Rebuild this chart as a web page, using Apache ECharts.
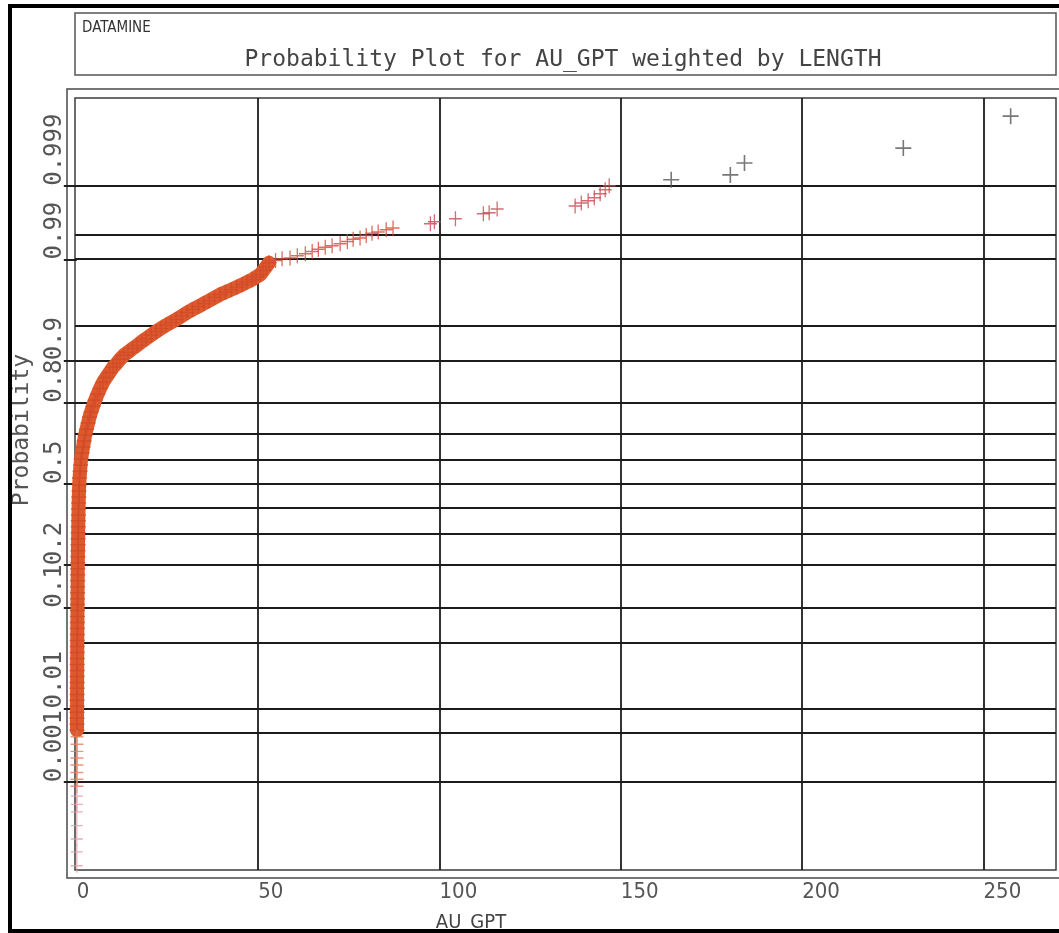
<!DOCTYPE html>
<html>
<head>
<meta charset="utf-8">
<script src="https://cdn.jsdelivr.net/npm/echarts@6/dist/echarts.min.js"></script>
<style>
  html, body { margin: 0; padding: 0; background: #fff; }
  #chart { width: 1059px; height: 933px; }
</style>
</head>
<body>
<div id="chart"></div>
<script>
// AU_GPT values (g/t) and cumulative length-weighted probabilities.
// Dense part of the distribution, drawn as a continuous band of markers.
const bandAu = [
  0.05, 0.05, 0.06, 0.06, 0.07, 0.07, 0.08, 0.08, 0.09, 0.09,
  0.10, 0.10, 0.11, 0.12, 0.12, 0.13, 0.14, 0.15, 0.16, 0.17,
  0.18, 0.19, 0.20, 0.21, 0.22, 0.24, 0.25, 0.26, 0.28, 0.30,
  0.32, 0.34, 0.36, 0.38, 0.40, 0.42, 0.45, 0.48, 0.51, 0.55,
  0.60, 0.66,
  0.76, 0.9, 1.03, 1.17, 1.45, 1.72, 2.0, 2.28, 2.69, 3.1,
  3.5, 3.93, 4.48, 5.03, 5.72, 6.41, 7.24, 8.07, 9.03, 10.0,
  10.97, 11.9, 13.0, 14.1, 15.4, 16.6, 17.9, 19.1, 20.5, 21.9,
  23.2, 24.6, 26.0, 27.4, 28.9, 30.4, 31.9, 33.5, 35.0, 36.5,
  38.0, 39.5, 41.0, 42.6, 44.1, 45.6, 46.9, 48.4, 49.4, 50.6,
  51.4, 52.2, 53.0
];
const bandProb = [
  0.00536, 0.00639, 0.0076, 0.009, 0.0106, 0.0125, 0.0146, 0.0171, 0.0199, 0.0231,
  0.0267, 0.0307, 0.0353, 0.0404, 0.0461, 0.0524, 0.0594, 0.0671, 0.0755, 0.0847,
  0.0948, 0.1057, 0.1174, 0.1301, 0.1437, 0.1582, 0.1736, 0.19, 0.2072, 0.2254,
  0.2444, 0.2643, 0.285, 0.3064, 0.3285, 0.3512, 0.3745, 0.3982, 0.4223, 0.4467,
  0.4713, 0.496,
  0.525, 0.553, 0.578, 0.602, 0.626, 0.649, 0.672, 0.694, 0.715, 0.736,
  0.756, 0.772, 0.79, 0.807, 0.824, 0.839, 0.854, 0.865, 0.876, 0.887,
  0.894, 0.902, 0.909, 0.914, 0.92, 0.9245, 0.93, 0.934, 0.9387, 0.943,
  0.9465, 0.95, 0.953, 0.9559, 0.9591, 0.9622, 0.9647, 0.967, 0.9693, 0.9713,
  0.9733, 0.9752, 0.9766, 0.978, 0.9793, 0.9806, 0.9818, 0.9829, 0.984, 0.985,
  0.9865, 0.9878, 0.9891
];

// Run of samples between roughly 55 and 87 g/t.
const runAu = [54.8, 56.6, 58.8, 60.8, 63.0, 64.9, 66.6, 68.5, 70.4, 72.6,
  74.6, 76.2, 78.1, 79.8, 81.4, 83.1, 85.3, 87.2];
const runProb = [0.9897, 0.9902, 0.9904, 0.991, 0.9915, 0.992, 0.9925, 0.9929, 0.9932, 0.9936,
  0.994, 0.9944, 0.9946, 0.995, 0.9953, 0.9955, 0.9958, 0.996];

// Upper samples, 97 to 147 g/t.
const upperAu = [97.5, 98.6, 104.4, 112.1, 113.7, 115.9, 137.4, 139.1, 141.0, 142.7, 144.3, 145.7, 146.8];
const upperProb = [0.99649, 0.99671, 0.997, 0.99744, 0.99752, 0.99782, 0.99802, 0.99821, 0.99833,
  0.99849, 0.99868, 0.99885, 0.999];

// Extreme grades.
const topAu = [163.9, 180.2, 184.1, 227.9, 257.5];
const topProb = [0.99919, 0.99932, 0.99956, 0.99975, 0.999931];

// Lower tail of near-zero grades.
const tailMidAu = [0.04, 0.04, 0.03, 0.03, 0.03, 0.02, 0.02, 0.02];
const tailMidProb = [0.0044, 0.0035, 0.0028, 0.00226, 0.0018, 0.0014, 0.00111, 0.00087];
const tailLowAu = [0.02, 0.01, 0.01, 0.01, 0.01, 0.005, 0.005];
const tailLowProb = [0.00061, 0.00045, 0.00034, 0.0002, 0.000117, 0.000069, 0.000038];

// Axis annotation.
const xTickValues = [0, 50, 100, 150, 200, 250];
const xGridValues = [50, 100, 150, 200, 250];
const yTickLabels = ['0.001', '0.01', '0.1', '0.2', '0.5', '0.8', '0.9', '0.99', '0.999'];
const yGridProbs = [0.001, 0.005, 0.01, 0.05, 0.1, 0.2, 0.3, 0.4, 0.5, 0.6, 0.7, 0.8, 0.9,
  0.95, 0.99, 0.995, 0.999];

// Inverse standard normal CDF (Acklam), used for the probability scale.
function probit(p) {
  const a = [-3.969683028665376e+01, 2.209460984245205e+02, -2.759285104469687e+02,
    1.383577518672690e+02, -3.066479806614716e+01, 2.506628277459239e+00];
  const b = [-5.447609879822406e+01, 1.615858368580409e+02, -1.556989798598866e+02,
    6.680131188771972e+01, -1.328068155288572e+01];
  const c = [-7.784894002430293e-03, -3.223964580411365e-01, -2.400758277161838e+00,
    -2.549732539343734e+00, 4.374664141464968e+00, 2.938163982698783e+00];
  const d = [7.784695709041462e-03, 3.224671290700398e-01, 2.445134137142996e+00,
    3.754408661907416e+00];
  const plow = 0.02425, phigh = 1 - plow;
  let q, r;
  if (p < plow) {
    q = Math.sqrt(-2 * Math.log(p));
    return (((((c[0] * q + c[1]) * q + c[2]) * q + c[3]) * q + c[4]) * q + c[5]) /
      ((((d[0] * q + d[1]) * q + d[2]) * q + d[3]) * q + 1);
  }
  if (p > phigh) {
    q = Math.sqrt(-2 * Math.log(1 - p));
    return -(((((c[0] * q + c[1]) * q + c[2]) * q + c[3]) * q + c[4]) * q + c[5]) /
      ((((d[0] * q + d[1]) * q + d[2]) * q + d[3]) * q + 1);
  }
  q = p - 0.5; r = q * q;
  return (((((a[0] * r + a[1]) * r + a[2]) * r + a[3]) * r + a[4]) * r + a[5]) * q /
    (((((b[0] * r + b[1]) * r + b[2]) * r + b[3]) * r + b[4]) * r + 1);
}

function pairs(xs, ps) {
  return xs.map((x, i) => [x, probit(ps[i])]);
}

const yTickZ = yTickLabels.map(s => probit(parseFloat(s)));

// Plus-shaped marker.
const PLUS = 'path://M6.3,0H7.7V14H6.3Z M0,6.3H14V7.7H0Z';

const monoFont = "'DejaVu Sans Mono', 'Liberation Mono', monospace";
const condFont = "'DejaVu Sans Condensed', 'Liberation Sans Narrow', 'DejaVu Sans', sans-serif";

const chart = echarts.init(document.getElementById('chart'), null, { renderer: 'canvas' });

chart.setOption({
  animation: false,
  backgroundColor: '#ffffff',
  grid: {
    left: 75, top: 98, width: 981, height: 772,
    show: true, borderColor: '#3c3c3c', borderWidth: 1.5,
    containLabel: false, outerBoundsMode: 'none'
  },
  xAxis: {
    type: 'value', min: -0.5, max: 270,
    axisLine: { show: false },
    axisTick: { show: false },
    splitLine: { show: false },
    axisLabel: {
      customValues: xTickValues,
      align: 'left', margin: 11,
      color: '#555', fontSize: 22, fontFamily: condFont
    }
  },
  yAxis: {
    type: 'value', min: -4, max: 4,
    axisLine: { show: false },
    axisTick: {
      show: true, customValues: yTickZ, length: 13, inside: false,
      lineStyle: { color: '#1e1e1e', width: 2 }
    },
    splitLine: { show: false },
    axisLabel: {
      customValues: yTickZ,
      rotate: 90, align: 'left', verticalAlign: 'bottom', margin: 8,
      color: '#555', fontSize: 24, fontFamily: monoFont,
      formatter: function (v) {
        let best = 0, bd = Infinity;
        yTickZ.forEach((z, i) => { const dd = Math.abs(z - v); if (dd < bd) { bd = dd; best = i; } });
        return yTickLabels[best];
      }
    }
  },
  graphic: [
    // outer plot frame
    { type: 'rect', shape: { x: 67, y: 89, width: 1010, height: 789 },
      style: { fill: 'none', stroke: '#4a4a4a', lineWidth: 1.5 }, silent: true },
    // title box
    { type: 'rect', shape: { x: 75, y: 13, width: 981, height: 62 },
      style: { fill: 'none', stroke: '#555', lineWidth: 1.5 }, silent: true },
    { type: 'text', x: 82, y: 28, silent: true,
      style: { text: 'DATAMINE', fill: '#333', font: '15px ' + condFont,
        textAlign: 'left', textVerticalAlign: 'middle' } },
    { type: 'text', x: 563, y: 60, silent: true,
      style: { text: 'Probability Plot for AU_GPT weighted by LENGTH', fill: '#444',
        font: '23px ' + monoFont, textAlign: 'center', textVerticalAlign: 'middle' } },
    { type: 'text', x: 22, y: 430, rotation: Math.PI / 2, silent: true,
      style: { text: 'Probability', fill: '#555', font: '23px ' + monoFont,
        textAlign: 'center', textVerticalAlign: 'middle' } },
    { type: 'text', x: 471, y: 923, silent: true,
      style: { text: 'AU_GPT', fill: '#444', font: '20px ' + condFont,
        textAlign: 'center', textVerticalAlign: 'middle' } },
    // page border
    { type: 'rect', shape: { x: 8, y: 4, width: 4, height: 929 }, style: { fill: '#000' }, silent: true },
    { type: 'rect', shape: { x: 8, y: 4, width: 1051, height: 4 }, style: { fill: '#000' }, silent: true },
    { type: 'rect', shape: { x: 8, y: 929, width: 1051, height: 4 }, style: { fill: '#000' }, silent: true }
  ],
  series: [
    {
      name: 'band',
      type: 'line',
      data: pairs(bandAu, bandProb),
      showSymbol: false,
      symbol: 'none',
      clip: false,
      z: 2,
      lineStyle: { color: '#de5a2c', width: 14, cap: 'round', join: 'round' },
      silent: true,
      markLine: {
        silent: true,
        z: 1,
        symbol: ['none', 'none'],
        label: { show: false },
        lineStyle: { color: '#1c1c1c', width: 1.8, type: 'solid' },
        emphasis: { disabled: true },
        animation: false,
        data: yGridProbs.map(p => ({ yAxis: probit(p) }))
          .concat(xGridValues.map(v => ({ xAxis: v })))
      }
    },
    {
      name: 'bandMarks', type: 'scatter', data: pairs(bandAu, bandProb),
      symbol: PLUS, symbolSize: [15, 15], clip: false, z: 3, silent: true,
      itemStyle: { color: '#cf4a2a' }
    },
    {
      name: 'run', type: 'scatter', data: pairs(runAu, runProb),
      symbol: PLUS, symbolSize: [13, 15], clip: false, z: 3, silent: true,
      itemStyle: { color: '#d54836' }
    },
    {
      name: 'upper', type: 'scatter', data: pairs(upperAu, upperProb),
      symbol: PLUS, symbolSize: [13, 15], clip: false, z: 3, silent: true,
      itemStyle: { color: '#c84850' }
    },
    {
      name: 'top', type: 'scatter', data: pairs(topAu, topProb),
      symbol: PLUS, symbolSize: [16, 16], clip: false, z: 3, silent: true,
      itemStyle: { color: '#555' }
    },
    {
      name: 'tailMid', type: 'scatter', data: pairs(tailMidAu, tailMidProb),
      symbol: PLUS, symbolSize: [13, 14], clip: false, z: 3, silent: true,
      itemStyle: { color: '#e2805e' }
    },
    {
      name: 'tailLow', type: 'scatter', data: pairs(tailLowAu, tailLowProb),
      symbol: PLUS, symbolSize: [12, 14], clip: false, z: 3, silent: true,
      itemStyle: { color: '#e39aa8' }
    }
  ]
});
</script>
</body>
</html>
